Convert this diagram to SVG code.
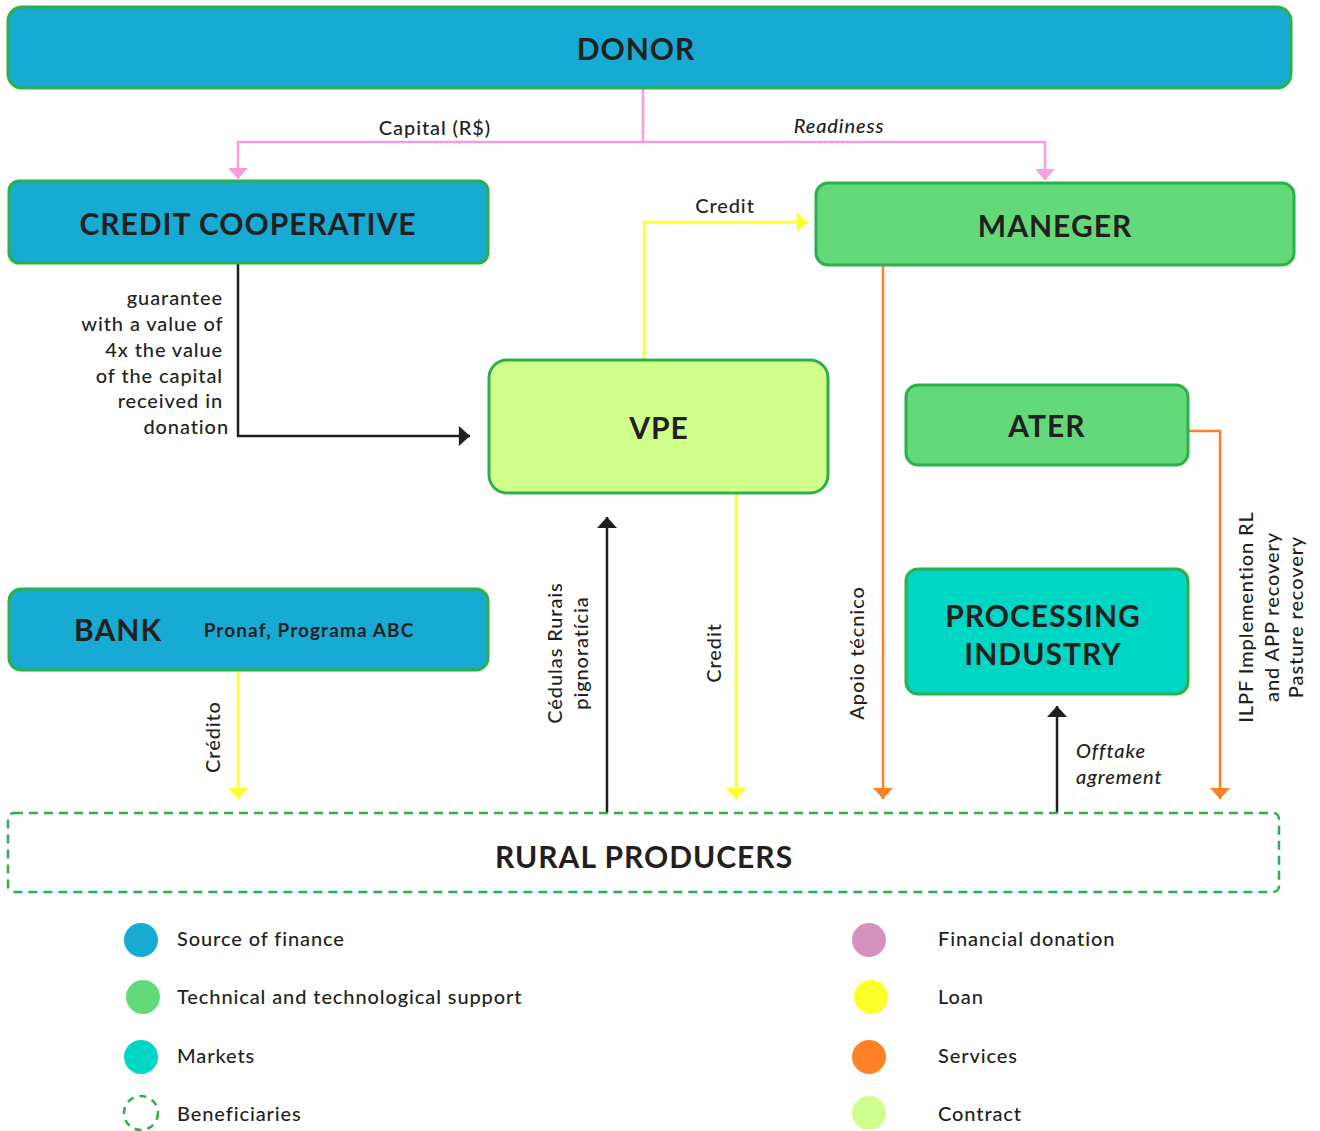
<svg xmlns="http://www.w3.org/2000/svg" width="1320" height="1131" viewBox="0 0 1320 1131">
<defs>
<style>
.box{stroke:#2bb04a;stroke-width:3}
.t{font-family:Lato,"Open Sans",sans-serif;fill:#231f20}
.title{font-weight:700;font-size:30px;letter-spacing:1px;text-anchor:middle;dominant-baseline:central}
.lbl{font-weight:500;font-size:20px;letter-spacing:0.9px}
.ln{fill:none;stroke-width:2.5}
</style>
<marker id="aPink" markerUnits="userSpaceOnUse" markerWidth="12" markerHeight="20" refX="10" refY="9" orient="auto" viewBox="0 0 10 18"><path d="M0,0 L10,9 L0,18 z" fill="#f59ee0"/></marker>
<marker id="aYel" markerUnits="userSpaceOnUse" markerWidth="12" markerHeight="20" refX="10" refY="9" orient="auto" viewBox="0 0 10 18"><path d="M0,0 L10,9 L0,18 z" fill="#fbff2a"/></marker>
<marker id="aOr" markerUnits="userSpaceOnUse" markerWidth="12" markerHeight="20" refX="10" refY="9" orient="auto" viewBox="0 0 10 18"><path d="M0,0 L10,9 L0,18 z" fill="#ff8125"/></marker>
<marker id="aBlk" markerUnits="userSpaceOnUse" markerWidth="12" markerHeight="20" refX="10" refY="9" orient="auto" viewBox="0 0 10 18"><path d="M0,0 L10,9 L0,18 z" fill="#231f20"/></marker>
</defs>
<rect width="1320" height="1131" fill="#ffffff"/>

<g id="connectors">
<path class="ln" stroke="#f59ee0" d="M643,88 V142"/>
<path class="ln" stroke="#f59ee0" d="M643,142 H238 V179" marker-end="url(#aPink)"/>
<path class="ln" stroke="#f59ee0" d="M643,142 H1045 V180" marker-end="url(#aPink)"/>
<path class="ln" stroke="#fbff2a" d="M644,360 V222 H808" marker-end="url(#aYel)"/>
<path class="ln" stroke="#231f20" d="M238,263 V436 H470" marker-end="url(#aBlk)"/>
<path class="ln" stroke="#fbff2a" d="M238,670 V799" marker-end="url(#aYel)"/>
<path class="ln" stroke="#231f20" d="M607,813 V517" marker-end="url(#aBlk)"/>
<path class="ln" stroke="#fbff2a" d="M736,493 V799" marker-end="url(#aYel)"/>
<path class="ln" stroke="#ff8125" d="M883,265 V799" marker-end="url(#aOr)"/>
<path class="ln" stroke="#ff8125" d="M1188,431 H1220 V799" marker-end="url(#aOr)"/>
<path class="ln" stroke="#231f20" d="M1057,813 V706" marker-end="url(#aBlk)"/>

<text class="t lbl" x="435" y="135" text-anchor="middle">Capital (R$)</text>
<text class="t lbl" x="839" y="133" text-anchor="middle" font-style="italic">Readiness</text>
<text class="t lbl" x="725" y="213" text-anchor="middle">Credit</text>
<text class="t lbl" text-anchor="end">
<tspan x="229" y="305">guarantee</tspan>
<tspan x="229" y="331">with a value of</tspan>
<tspan x="229" y="357">4x the value</tspan>
<tspan x="229" y="383">of the capital</tspan>
<tspan x="229" y="408">received in</tspan>
<tspan x="229" y="434">donation</tspan>
</text>
<text class="t lbl" transform="translate(220,737) rotate(-90)" text-anchor="middle">Crédito</text>
<text class="t lbl" transform="translate(562,653) rotate(-90)" text-anchor="middle">Cédulas Rurais</text>
<text class="t lbl" transform="translate(588,653) rotate(-90)" text-anchor="middle">pignoratícia</text>
<text class="t lbl" transform="translate(721,653) rotate(-90)" text-anchor="middle">Credit</text>
<text class="t lbl" transform="translate(864,653) rotate(-90)" text-anchor="middle">Apoio técnico</text>
<text class="t lbl" transform="translate(1253,617) rotate(-90)" text-anchor="middle" letter-spacing="0.5">ILPF Implemention RL</text>
<text class="t lbl" transform="translate(1279,617) rotate(-90)" text-anchor="middle" letter-spacing="0.5">and APP recovery</text>
<text class="t lbl" transform="translate(1303,617) rotate(-90)" text-anchor="middle" letter-spacing="0.5">Pasture recovery</text>
<text class="t lbl" font-style="italic">
<tspan x="1076" y="758">Offtake</tspan>
<tspan x="1076" y="784">agrement</tspan>
</text>
</g>

<g id="donor">
<rect class="box" x="8" y="7" width="1283" height="81" rx="14" fill="#17aad3"/>
<text class="t title" x="636" y="48">DONOR</text>
</g>
<g id="credit-cooperative">
<rect class="box" x="9" y="181" width="479" height="82" rx="10" fill="#17aad3"/>
<text class="t title" x="248" y="223">CREDIT COOPERATIVE</text>
</g>
<g id="maneger">
<rect class="box" x="816" y="183" width="478" height="82" rx="12" fill="#63d97a"/>
<text class="t title" x="1055" y="225">MANEGER</text>
</g>
<g id="vpe">
<rect class="box" x="489" y="360" width="339" height="133" rx="18" fill="#d0ff8b"/>
<text class="t title" x="659" y="427">VPE</text>
</g>
<g id="ater">
<rect class="box" x="906" y="385" width="282" height="80" rx="12" fill="#63d97a"/>
<text class="t title" x="1047" y="425">ATER</text>
</g>
<g id="processing-industry">
<rect class="box" x="906" y="569" width="282" height="125" rx="12" fill="#00d6c4"/>
<text class="t title" x="1043" y="615">PROCESSING</text>
<text class="t title" x="1043" y="653">INDUSTRY</text>
</g>
<g id="bank">
<rect class="box" x="9" y="589" width="479" height="81" rx="12" fill="#17aad3"/>
<text class="t title" x="118" y="629">BANK</text>
<text class="t" x="309" y="629" font-size="19" font-weight="700" letter-spacing="1.1" text-anchor="middle" dominant-baseline="central">Pronaf, Programa ABC</text>
</g>
<g id="rural-producers">
<rect x="8" y="813" width="1271" height="79" rx="6" fill="none" stroke="#2bb04a" stroke-width="2.5" stroke-dasharray="9,6"/>
<text class="t title" x="644" y="856">RURAL PRODUCERS</text>
</g>

<g id="legend">
<circle cx="141" cy="940" r="17" fill="#17aad3"/>
<text class="t lbl" x="177" y="946">Source of finance</text>
<circle cx="143" cy="997" r="17" fill="#63d97a"/>
<text class="t lbl" x="177" y="1004">Technical and technological support</text>
<circle cx="141" cy="1057" r="17" fill="#00d6c4"/>
<text class="t lbl" x="177" y="1063">Markets</text>
<circle cx="141" cy="1113" r="17" fill="none" stroke="#2bb04a" stroke-width="2.5" stroke-dasharray="7,6"/>
<text class="t lbl" x="177" y="1121">Beneficiaries</text>
<circle cx="869" cy="940" r="17" fill="#d592bf"/>
<text class="t lbl" x="938" y="946">Financial donation</text>
<circle cx="871" cy="997" r="17" fill="#fbff2a"/>
<text class="t lbl" x="938" y="1004">Loan</text>
<circle cx="869" cy="1057" r="17" fill="#ff8125"/>
<text class="t lbl" x="938" y="1063">Services</text>
<circle cx="869" cy="1113" r="17" fill="#ceff8e"/>
<text class="t lbl" x="938" y="1121">Contract</text>
</g>
</svg>
